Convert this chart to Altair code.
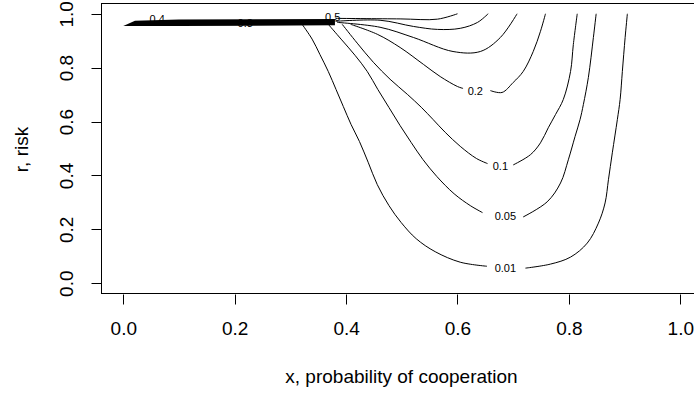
import altair as alt
import pandas as pd

# ---- contour polylines (data units) ----
lvl001_left_x = [0.321, 0.339, 0.353, 0.368, 0.382, 0.395, 0.409, 0.424, 0.440, 0.456, 0.477, 0.499, 0.526, 0.560, 0.605, 0.653]
lvl001_left_y = [0.961, 0.906, 0.849, 0.786, 0.719, 0.656, 0.589, 0.526, 0.447, 0.366, 0.288, 0.225, 0.165, 0.117, 0.078, 0.063]
lvl001_right_x = [0.722, 0.767, 0.803, 0.833, 0.853, 0.865, 0.871, 0.878, 0.887, 0.892, 0.896, 0.901, 0.905]
lvl001_right_y = [0.056, 0.071, 0.097, 0.149, 0.223, 0.298, 0.384, 0.484, 0.607, 0.682, 0.786, 0.912, 1.000]

lvl005_left_x = [0.368, 0.391, 0.416, 0.438, 0.457, 0.477, 0.497, 0.517, 0.538, 0.563, 0.594, 0.623, 0.645]
lvl005_left_y = [0.961, 0.906, 0.846, 0.786, 0.719, 0.652, 0.585, 0.522, 0.459, 0.396, 0.332, 0.288, 0.262]
lvl005_right_x = [0.718, 0.761, 0.785, 0.799, 0.811, 0.820, 0.826, 0.835, 0.844, 0.849]
lvl005_right_y = [0.246, 0.302, 0.372, 0.458, 0.544, 0.607, 0.663, 0.764, 0.912, 1.000]

lvl01_left_x = [0.393, 0.420, 0.449, 0.479, 0.510, 0.535, 0.556, 0.578, 0.605, 0.634, 0.654]
lvl01_left_y = [0.961, 0.891, 0.820, 0.757, 0.701, 0.653, 0.608, 0.560, 0.508, 0.463, 0.444]
lvl01_right_x = [0.700, 0.731, 0.749, 0.763, 0.776, 0.790, 0.803, 0.808, 0.815]
lvl01_right_y = [0.439, 0.477, 0.521, 0.577, 0.626, 0.682, 0.786, 0.886, 1.000]

lvl02_left_x = [0.408, 0.456, 0.497, 0.539, 0.569, 0.600, 0.610]
lvl02_left_y = [0.961, 0.924, 0.875, 0.812, 0.767, 0.730, 0.723]
lvl02_right_x = [0.659, 0.680, 0.700, 0.718, 0.736, 0.749, 0.758]
lvl02_right_y = [0.715, 0.708, 0.745, 0.786, 0.860, 0.935, 1.000]

lvl03_x = [0.384, 0.461, 0.521, 0.592, 0.641, 0.677, 0.707]
lvl03_y = [0.968, 0.950, 0.912, 0.860, 0.860, 0.912, 1.000]

lvl04_x = [0.381, 0.461, 0.521, 0.564, 0.605, 0.636, 0.655]
lvl04_y = [0.972, 0.976, 0.953, 0.942, 0.946, 0.968, 1.000]

lvl05_x = [0.381, 0.497, 0.564, 0.600]
lvl05_y = [0.983, 0.981, 0.980, 1.000]

# dense bundle of converging contours along the top
band_x = [0.0, 0.021, 0.10, 0.38]
band_top = [0.955, 0.974, 0.979, 0.981]
band_bottom = [0.955, 0.955, 0.955, 0.957]

# contour labels
label_text = ["0.01", "0.05", "0.1", "0.2", "0.5", "0.4", "0.3"]
label_x = [0.686, 0.686, 0.677, 0.632, 0.376, 0.061, 0.219]
label_y = [0.052, 0.246, 0.432, 0.710, 0.983, 0.976, 0.962]

tick_values = [0.0, 0.2, 0.4, 0.6, 0.8, 1.0]

segments = [
    ("001L", lvl001_left_x, lvl001_left_y), ("001R", lvl001_right_x, lvl001_right_y),
    ("005L", lvl005_left_x, lvl005_left_y), ("005R", lvl005_right_x, lvl005_right_y),
    ("01L", lvl01_left_x, lvl01_left_y), ("01R", lvl01_right_x, lvl01_right_y),
    ("02L", lvl02_left_x, lvl02_left_y), ("02R", lvl02_right_x, lvl02_right_y),
    ("03", lvl03_x, lvl03_y), ("04", lvl04_x, lvl04_y), ("05", lvl05_x, lvl05_y),
]
rows = []
for name, xs, ys in segments:
    for i, (a, b) in enumerate(zip(xs, ys)):
        rows.append({"seg": name, "ord": i, "x": a, "y": b})
lines_df = pd.DataFrame(rows)
band_df = pd.DataFrame({"x": band_x, "y": band_top, "y2": band_bottom})
labels_df = pd.DataFrame({"t": label_text, "x": label_x, "y": label_y})
frame_df = pd.DataFrame({"k": [0]})

W, H = 593, 291
FONT = "Liberation Sans, Arial, sans-serif"
xscale = alt.Scale(domain=[-0.04, -0.04 + W / 557.0], nice=False, zero=False)
yscale = alt.Scale(domain=[-0.04, 1.04], nice=False, zero=False)

xaxis = alt.Axis(values=tick_values, format=".1f", grid=False, domain=False,
                 tickSize=10, tickColor="black", tickWidth=1,
                 labelFontSize=19, labelFont=FONT, labelColor="black",
                 labelPadding=24, labelBaseline="middle", labelAlign="center",
                 labelOverlap=False, labelFlush=False,
                 title="x, probability of cooperation", titleFont=FONT,
                 titleFontSize=19, titleFontWeight="normal", titleColor="black",
                 titleX=300, titleY=82, titleAlign="center", titleBaseline="middle")
yaxis = alt.Axis(values=tick_values, format=".1f", grid=False, domain=False,
                 tickSize=10, tickColor="black", tickWidth=1,
                 labelFontSize=19, labelFont=FONT, labelColor="black",
                 labelPadding=25, labelAngle=270, labelBaseline="middle", labelAlign="center",
                 labelOverlap=False, labelFlush=False,
                 title="r, risk", titleFont=FONT,
                 titleFontSize=19, titleFontWeight="normal", titleColor="black",
                 titleAngle=270, titleX=-80, titleY=146, titleAlign="center", titleBaseline="middle")

band = alt.Chart(band_df).mark_area(color="black", opacity=1).encode(
    x=alt.X("x:Q", scale=xscale, axis=xaxis),
    y=alt.Y("y:Q", scale=yscale, axis=yaxis),
    y2="y2:Q",
)
lines = alt.Chart(lines_df).mark_line(color="black", strokeWidth=1,
                                      interpolate="catmull-rom").encode(
    x=alt.X("x:Q", scale=xscale, axis=xaxis),
    y=alt.Y("y:Q", scale=yscale, axis=yaxis),
    detail="seg:N",
    order="ord:Q",
)
labels = alt.Chart(labels_df).mark_text(fontSize=11, font=FONT, color="black",
                                        align="center", baseline="middle").encode(
    x=alt.X("x:Q", scale=xscale, axis=xaxis),
    y=alt.Y("y:Q", scale=yscale, axis=yaxis),
    text="t:N",
)

# plot box (left, top, bottom edges; the right edge lies beyond the window)
frame_top = alt.Chart(frame_df).mark_rule(color="black", strokeWidth=1).encode(
    x=alt.value(0), x2=alt.value(W), y=alt.value(0.5))
frame_bottom = alt.Chart(frame_df).mark_rule(color="black", strokeWidth=1).encode(
    x=alt.value(0), x2=alt.value(W), y=alt.value(H - 0.5))
frame_left = alt.Chart(frame_df).mark_rule(color="black", strokeWidth=1).encode(
    x=alt.value(0.5), y=alt.value(0), y2=alt.value(H))

chart = alt.layer(band, lines, labels, frame_top, frame_bottom, frame_left).properties(
    width=W, height=H,
    autosize=alt.AutoSizeParams(type="none"),
    padding={"left": 101, "top": 3, "right": 0, "bottom": 96},
    background="white",
).configure_view(stroke="transparent", strokeWidth=0)

chart.save("out.html", embed_options={"renderer": "svg", "actions": False})
